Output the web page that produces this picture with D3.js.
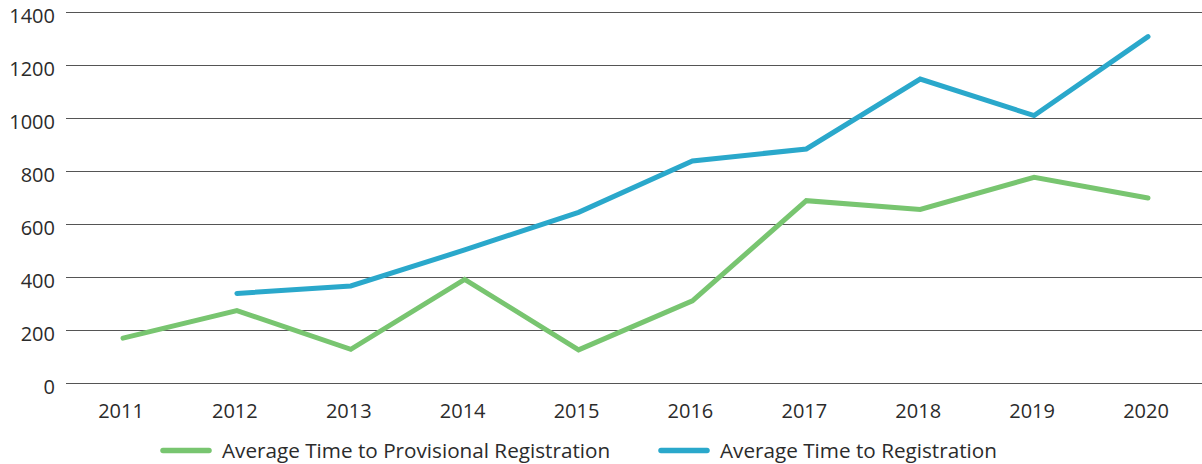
<!DOCTYPE html>
<html>
<head>
<meta charset="utf-8">
<script src="https://cdn.jsdelivr.net/npm/d3@7"></script>
<style>
  body { margin: 0; background: #fff; }
  text { font-family: "Open Sans", "Noto Sans", sans-serif; fill: #2b2b2b; }
</style>
</head>
<body>
<svg id="chart"></svg>
<script>
var years = [2011, 2012, 2013, 2014, 2015, 2016, 2017, 2018, 2019, 2020]
var provisional = [168, 272, 126, 390, 124, 309, 687, 654, 775, 697]
var registration = [null, 337, 365, 501, 643, 837, 882, 1146, 1008, 1306]
var yTicks = [0, 200, 400, 600, 800, 1000, 1200, 1400]
var seriesNames = ["Average Time to Provisional Registration", "Average Time to Registration"]
var seriesColors = ["#78c570", "#2aa8cb"]

var width = 1202, height = 464

var svg = d3.select("#chart").attr("width", width).attr("height", height)

var x = d3.scalePoint()
          .domain(years)
          .range([123, 1148])

var y = d3.scaleLinear()
          .domain([0, 1400])
          .range([382.7, 11.7])

// gridlines
svg.append("g")
   .selectAll("line")
   .data(yTicks)
   .enter().append("line")
   .attr("x1", 66)
   .attr("x2", width)
   .attr("y1", d => Math.round(y(d)) + 0.5)
   .attr("y2", d => Math.round(y(d)) + 0.5)
   .attr("stroke", "#555")
   .attr("stroke-width", 1.2)

// y labels (sit a little below their gridline, as in the original)
svg.append("g")
   .selectAll("text")
   .data(yTicks)
   .enter().append("text")
   .attr("x", 55)
   .attr("y", d => y(d) + 4)
   .attr("dy", "0.36em")
   .attr("text-anchor", "end")
   .attr("font-size", 20)
   .text(d => d)

// x labels
svg.append("g")
   .selectAll("text")
   .data(years)
   .enter().append("text")
   .attr("x", d => x(d) - 2)
   .attr("y", 411)
   .attr("dy", "0.36em")
   .attr("text-anchor", "middle")
   .attr("font-size", 20)
   .text(d => d)

var line = d3.line()
             .defined(d => d[1] != null)
             .x(d => x(d[0]))
             .y(d => y(d[1]))

var allSeries = [provisional, registration]

allSeries.forEach(function(vals, i){
  svg.append("path")
     .datum(years.map((yr, j) => [yr, vals[j]]))
     .attr("d", line)
     .attr("fill", "none")
     .attr("stroke", seriesColors[i])
     .attr("stroke-width", 5)
     .attr("stroke-linecap", "round")
     .attr("stroke-linejoin", "miter")
})

// legend
var legendX = [163, 661]
var legend = svg.append("g")
                .selectAll("g")
                .data(seriesNames)
                .enter().append("g")
                .attr("transform", (d, i) => "translate(" + legendX[i] + ",450.5)")

legend.append("line")
      .attr("x1", 0)
      .attr("x2", 46)
      .attr("stroke", (d, i) => seriesColors[i])
      .attr("stroke-width", 5.5)
      .attr("stroke-linecap", "round")

legend.append("text")
      .attr("x", 59)
      .attr("dy", "0.36em")
      .attr("font-size", 20.7)
      .text(d => d)
</script>
</body>
</html>
